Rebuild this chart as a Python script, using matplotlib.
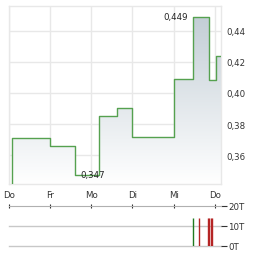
import numpy as np
import matplotlib.pyplot as plt
from matplotlib.colors import LinearSegmentedColormap
from matplotlib.ticker import FuncFormatter

# Kursdaten (Tage ab erstem Donnerstag)
tage = ['Do', 'Fr', 'Mo', 'Di', 'Mi', 'Do']
zeit = [0.07, 0.07, 1.0, 1.61, 2.19, 2.63, 3.0, 4.0, 4.47, 4.85, 5.02, 5.15]
kurs = [0.335, 0.371, 0.366, 0.347, 0.385, 0.39, 0.372, 0.409, 0.449, 0.408, 0.424, 0.424]
y_ticks = [0.36, 0.38, 0.40, 0.42, 0.44]

# Umsatz in Tausend
vol_zeit = [4.47, 4.62, 4.83, 4.855, 4.90, 4.925]
vol_menge = [14, 14, 14, 14, 14, 14]
vol_plus = [True, False, False, False, False, False]

W, H = 264, 255
fig = plt.figure(figsize=(W / 100, H / 100), dpi=100)
fig.patch.set_facecolor('white')

ax = fig.add_axes([9 / W, 1 - 185 / H, 212 / W, 178 / H])
ax.set_xlim(0, 5.15)
ax.set_ylim(0.3415, 0.4558)

grid_c = '#e8e8e8'
for s in ax.spines.values():
    s.set_color(grid_c)
    s.set_linewidth(1)
ax.set_xticks(range(len(tage)))
ax.set_xticklabels(tage)
ax.set_yticks(y_ticks)
ax.yaxis.tick_right()
ax.yaxis.set_major_formatter(FuncFormatter(lambda v, _: f'{v:.2f}'.replace('.', ',')))
ax.tick_params(axis='both', length=0, labelsize=6.2, colors='#333333')
ax.tick_params(axis='y', pad=4)
ax.tick_params(axis='x', pad=4)
ax.grid(True, color=grid_c, linewidth=1)
ax.set_axisbelow(True)

# Fläche mit Verlauf
fl = ax.fill_between(zeit, kurs, 0.3, step='post', facecolor='none', linewidth=0)
cmap = LinearSegmentedColormap.from_list('g', ['#ffffff', '#c3ced6'])
grad = np.linspace(0, 1, 256).reshape(-1, 1)
im = ax.imshow(grad, cmap=cmap, aspect='auto', origin='lower',
               extent=[0, 5.15, 0.3415, 0.449], zorder=1)
im.set_clip_path(fl.get_paths()[0], transform=ax.transData)

ax.step(zeit, kurs, where='post', color='#55a14f', linewidth=1.0, zorder=3)

i_max = int(np.argmax(kurs))
i_min = int(np.argmin(kurs[1:])) + 1
fmt = lambda v: f'{v:.3f}'.replace('.', ',')
ax.annotate(fmt(kurs[i_max]), (zeit[i_max], kurs[i_max]), xytext=(-4, 0),
            textcoords='offset points', ha='right', va='center', fontsize=6.2, color='#222222')
ax.annotate(fmt(kurs[i_min]), (zeit[i_min], kurs[i_min]), xytext=(4, 1),
            textcoords='offset points', ha='left', va='center', fontsize=6.2, color='#222222', zorder=4)

# Umsatz
av = fig.add_axes([9 / W, 1 - 247 / H, 212 / W, 40 / H])
av.set_xlim(0, 5.15)
av.set_ylim(0, 20)
for k in ['left', 'right', 'bottom']:
    av.spines[k].set_visible(False)
av.spines['top'].set_color('#b0b0b0')
av.xaxis.tick_top()
av.set_xticks(range(len(tage)))
av.set_xticklabels([])
av.tick_params(axis='x', direction='inout', length=3, width=0.8, color='#333333')
av.yaxis.tick_right()
av.set_yticks([0, 10, 20])
av.set_yticklabels(['0T', '10T', '20T'])
av.tick_params(axis='y', length=4, width=0.8, color='#333333', pad=1,
               labelsize=6.2, labelcolor='#333333')
for v in [0, 10]:
    av.axhline(v, color='#c8c8c8', linewidth=1, zorder=0, clip_on=False)
farben = ['#1f7a1f' if p else '#b52525' for p in vol_plus]
av.vlines(vol_zeit, 0, vol_menge, colors=farben, linewidth=1.0)

fig.savefig('out.png', dpi=100)
